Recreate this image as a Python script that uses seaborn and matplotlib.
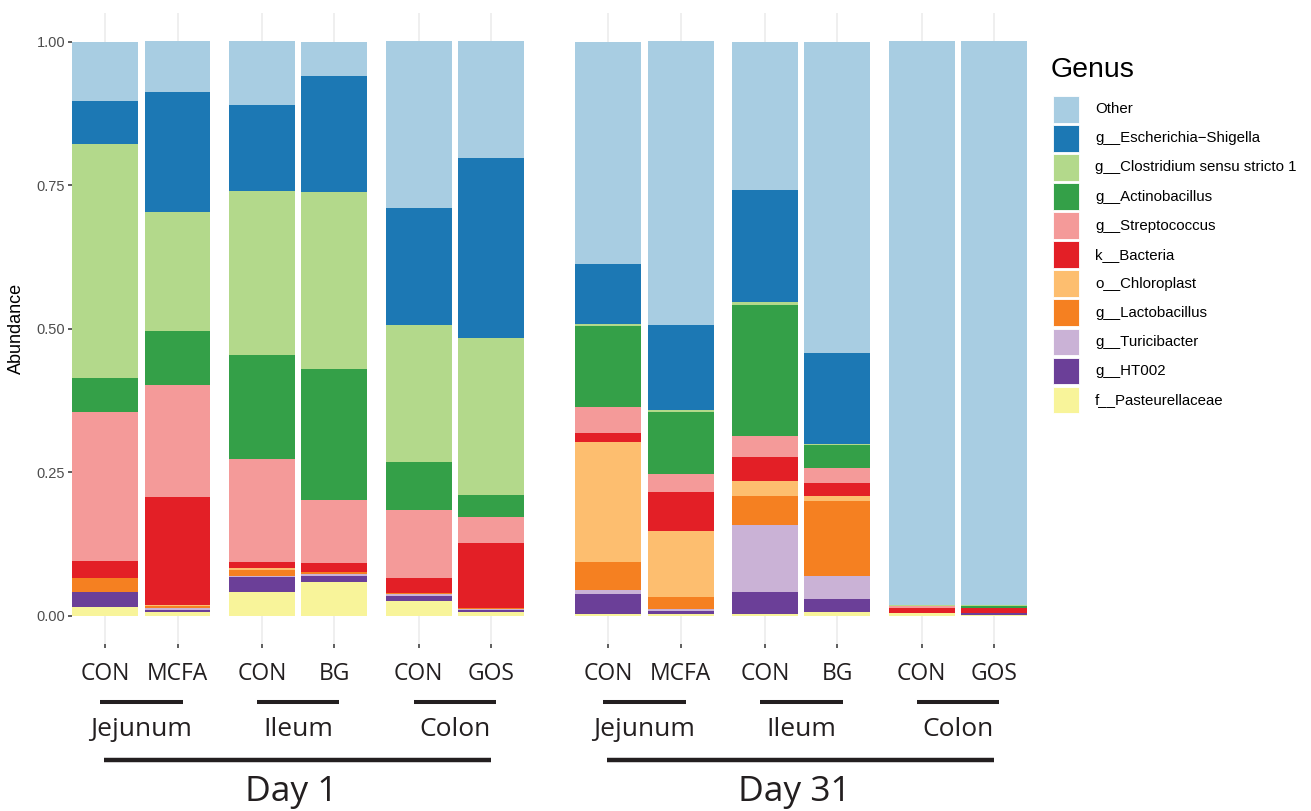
import matplotlib
matplotlib.use("Agg")
import matplotlib.pyplot as plt
import matplotlib.transforms as mtransforms
from matplotlib.patches import Rectangle
from matplotlib.lines import Line2D
import numpy as np
import pandas as pd
import seaborn as sns

# ---- sample layout -------------------------------------------------------
sample_day = ["Day 1"] * 6 + ["Day 31"] * 6
sample_site = ["Jejunum", "Jejunum", "Ileum", "Ileum", "Colon", "Colon"] * 2
sample_treatment = ["CON", "MCFA", "CON", "BG", "CON", "GOS"] * 2

# ---- relative abundance per genus (one value per sample) -----------------
genera = ["Other", "g__Escherichia\u2212Shigella", "g__Clostridium sensu stricto 1",
          "g__Actinobacillus", "g__Streptococcus", "k__Bacteria", "o__Chloroplast",
          "g__Lactobacillus", "g__Turicibacter", "g__HT002", "f__Pasteurellaceae"]
genus_colors = ["#A8CDE2", "#1C78B4", "#B3D98B", "#34A048", "#F49A99", "#E31F26",
                "#FDBE6F", "#F58021", "#CAB2D6", "#6B3F98", "#F8F49A"]

other = [0.104, 0.088, 0.112, 0.059, 0.292, 0.203, 0.387, 0.495, 0.258, 0.542, 0.983, 0.983]
escherichia = [0.075, 0.209, 0.150, 0.203, 0.203, 0.314, 0.105, 0.147, 0.196, 0.159, 0.000, 0.000]
clostridium = [0.407, 0.208, 0.286, 0.309, 0.239, 0.273, 0.003, 0.004, 0.005, 0.002, 0.001, 0.002]
actinobacillus = [0.059, 0.094, 0.181, 0.228, 0.083, 0.039, 0.141, 0.109, 0.228, 0.039, 0.000, 0.003]
streptococcus = [0.260, 0.195, 0.179, 0.110, 0.120, 0.045, 0.045, 0.031, 0.037, 0.026, 0.004, 0.000]
bacteria = [0.030, 0.188, 0.011, 0.015, 0.025, 0.113, 0.017, 0.067, 0.041, 0.023, 0.009, 0.009]
chloroplast = [0.000, 0.002, 0.003, 0.000, 0.000, 0.000, 0.209, 0.115, 0.026, 0.009, 0.000, 0.000]
lactobacillus = [0.023, 0.004, 0.010, 0.003, 0.002, 0.002, 0.049, 0.021, 0.051, 0.130, 0.000, 0.000]
turicibacter = [0.001, 0.003, 0.003, 0.003, 0.003, 0.002, 0.006, 0.003, 0.117, 0.041, 0.000, 0.000]
ht002 = [0.026, 0.004, 0.026, 0.011, 0.009, 0.003, 0.035, 0.006, 0.038, 0.023, 0.000, 0.004]
pasteurellaceae = [0.015, 0.006, 0.041, 0.059, 0.026, 0.007, 0.003, 0.003, 0.003, 0.006, 0.004, 0.001]

abundance = [other, escherichia, clostridium, actinobacillus, streptococcus, bacteria,
             chloroplast, lactobacillus, turicibacter, ht002, pasteurellaceae]

# ---- x positions: tight pairs within a site, small gap between sites, wider between days
pos = []
x = 0.0
for i in range(len(sample_day)):
    if i > 0:
        if sample_day[i] != sample_day[i - 1]:
            x += 1.614
        elif sample_site[i] != sample_site[i - 1]:
            x += 1.163
        else:
            x += 1.0
    pos.append(x)
pos = np.array(pos)

# long table with the cumulative top of each genus (stacked from the bottom of the list)
vals = np.array(abundance)
tops = np.cumsum(vals[::-1], axis=0)[::-1]
df = pd.DataFrame({
    "pos": np.tile(pos, len(genera)),
    "genus": np.repeat(genera, len(pos)),
    "top": tops.ravel(),
})

sns.set_theme(style="white")
plt.rcParams["font.family"] = ["Liberation Sans", "DejaVu Sans"]

W, H = 1311, 811
fig = plt.figure(figsize=(W / 100, H / 100), dpi=100)
ax_l, ax_r, ax_t, ax_b = 72, 1030, 13, 644.4
ax = fig.add_axes([ax_l / W, 1 - ax_b / H, (ax_r - ax_l) / W, (ax_b - ax_t) / H])

# draw tallest layer first so every lower layer sits on top of it
for g, col in zip(genera, genus_colors):
    sub = df[df["genus"] == g]
    sns.barplot(data=sub, x="pos", y="top", native_scale=True, width=0.91,
                color=col, saturation=1, errorbar=None, linewidth=0, ax=ax)

unit = 72.5
ax.set_xlim(pos[0] - (105 - ax_l) / unit, pos[0] + (ax_r - 105) / unit)
ax.set_ylim(-0.05, 1.05)
ax.set_yticks([0, 0.25, 0.5, 0.75, 1.0])
ax.set_yticklabels(["0.00", "0.25", "0.50", "0.75", "1.00"])
ax.set_xticks(pos)
ax.set_xticklabels([])
ax.set_xlabel("")
ax.set_ylabel("Abundance", fontsize=13, color="black")
ax.yaxis.set_label_coords((25 - ax_l) / (ax_r - ax_l), 0.5)
ax.tick_params(axis="y", labelsize=10.5, labelcolor="#4D4D4D", length=3, width=1.1,
               color="#333333", pad=2, left=True)
ax.tick_params(axis="x", length=3, width=1.1, color="#333333", bottom=True)
ax.grid(axis="x", color="#EBEBEB", linewidth=1.1)
ax.grid(axis="y", visible=False)
ax.set_axisbelow(True)
for s in ax.spines.values():
    s.set_visible(False)


def fy(py):
    return 1 - py / H


# ---- legend: square keys with labels, laid out in figure pixels -----------
fig.text(1051 / W, fy(77), "Genus", fontsize=20.5, ha="left", va="baseline", color="black")
key, pitch, top0 = 26.6, 29.07, 96.0
for i, (g, c) in enumerate(zip(genera, genus_colors)):
    ky = top0 + i * pitch
    fig.add_artist(Rectangle((1052.7 / W, fy(ky + key)), key / W, key / H,
                             transform=fig.transFigure, facecolor=c,
                             edgecolor="white", linewidth=0.6))
    fig.text(1095 / W, fy(ky + key / 2), g, fontsize=10.8, ha="left", va="center",
             color="black")

# ---- treatment / site / day annotation below the axis ----------------------
trans = mtransforms.blended_transform_factory(ax.transData, fig.transFigure)
ink = "#231F20"
afont = ["Open Sans", "DejaVu Sans"]

for p, t in zip(pos, sample_treatment):
    ax.text(p, fy(680), t, transform=trans, ha="center", va="baseline",
            fontsize=16.5, family=afont, color=ink)

for i in range(0, len(pos), 2):
    x0, x1 = pos[i] - 0.07, pos[i + 1] + 0.07
    ax.add_line(Line2D([x0, x1], [fy(702.3)] * 2, transform=trans, color=ink,
                       linewidth=2.9, solid_capstyle="butt", clip_on=False))
    ax.text((pos[i] + pos[i + 1]) / 2, fy(736.5), sample_site[i], transform=trans,
            ha="center", va="baseline", fontsize=19, family=afont, color=ink)

for d in ["Day 1", "Day 31"]:
    idx = [i for i, v in enumerate(sample_day) if v == d]
    x0, x1 = pos[idx[0]] - 0.02, pos[idx[-1]]
    ax.add_line(Line2D([x0, x1], [fy(760)] * 2, transform=trans, color=ink,
                       linewidth=3.2, solid_capstyle="butt", clip_on=False))
    ax.text((x0 + x1) / 2 - 0.08, fy(801), d, transform=trans, ha="center",
            va="baseline", fontsize=25.5, family=afont, color=ink)

fig.savefig("out.png", dpi=100, facecolor="white")
